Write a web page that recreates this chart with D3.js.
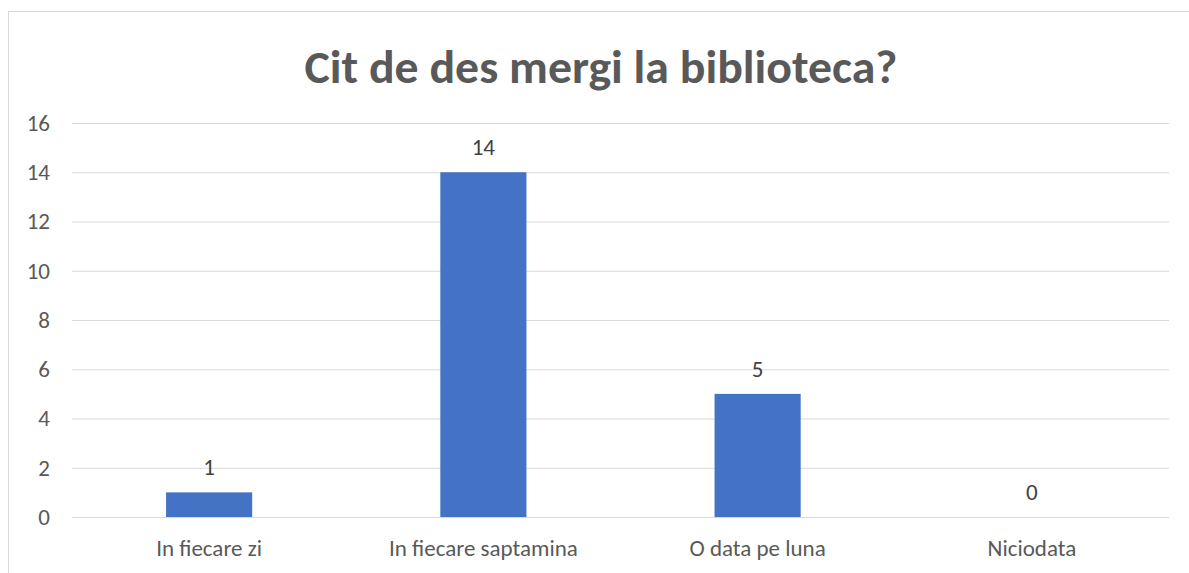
<!DOCTYPE html>
<html>
<head>
<meta charset="utf-8">
<script src="https://cdn.jsdelivr.net/npm/d3@7"></script>
<style>
  body { margin: 0; background: #fff; }
  text { font-family: Carlito, "Open Sans", "Liberation Sans", sans-serif; }
</style>
</head>
<body>
<div id="chart"></div>
<script>
// Data
const categories = ["In fiecare zi", "In fiecare saptamina", "O data pe luna", "Niciodata"];
const values = [1, 14, 5, 0];
const yTicks = [0, 2, 4, 6, 8, 10, 12, 14, 16];
const title = "Cit de des mergi la biblioteca?";

const W = 1189, H = 573;
const margin = { top: 123, right: 20, bottom: 56, left: 72 };
const plotW = 1169 - margin.left;
const plotH = 517 - margin.top;

const svg = d3.select("#chart")
    .append("svg")
    .attr("width", W)
    .attr("height", H);

// Chart border
svg.append("rect")
    .attr("x", 8.5)
    .attr("y", 11.5)
    .attr("width", W + 10)
    .attr("height", H + 10)
    .attr("fill", "none")
    .attr("stroke", "#d9d9d9")
    .attr("stroke-width", 1);

// Title
svg.append("text")
    .attr("x", 601)
    .attr("y", 83)
    .attr("text-anchor", "middle")
    .attr("textLength", 593)
    .attr("lengthAdjust", "spacingAndGlyphs")
    .style("font-size", "46px")
    .style("font-weight", "bold")
    .style("fill", "#595959")
    .text(title);

const g = svg.append("g")
    .attr("transform", `translate(${margin.left},${margin.top})`);

const x = d3.scaleBand()
    .domain(categories)
    .range([0, plotW])
    .paddingInner(0.686)
    .paddingOuter(0.343);

const y = d3.scaleLinear()
    .domain([0, 16])
    .range([plotH, 0]);

// Gridlines
g.append("g")
    .call(d3.axisLeft(y).tickValues(yTicks).tickSize(-plotW).tickFormat(""))
    .call(a => a.select(".domain").remove())
    .selectAll("line")
    .attr("stroke", "#d9d9d9")
    .attr("stroke-width", 1.2);

// Y axis labels
g.append("g")
    .call(d3.axisLeft(y).tickValues(yTicks).tickSize(0).tickPadding(22))
    .call(a => a.select(".domain").remove())
    .selectAll("text")
    .style("font-size", "23px")
    .style("font-family", "Carlito, 'Open Sans', sans-serif")
    .attr("fill", "#595959");

// X axis labels
g.append("g")
    .attr("transform", `translate(0,${plotH})`)
    .call(d3.axisBottom(x).tickSize(0).tickPadding(23))
    .call(a => a.select(".domain").remove())
    .selectAll("text")
    .style("font-size", "23px")
    .style("font-family", "Carlito, 'Open Sans', sans-serif")
    .attr("fill", "#595959");

// Value labels
g.selectAll(".lbl")
    .data(values)
    .enter()
    .append("text")
    .attr("class", "lbl")
    .attr("x", (d, i) => x(categories[i]) + x.bandwidth() / 2)
    .attr("y", d => y(d) - 17)
    .attr("text-anchor", "middle")
    .style("font-size", "23px")
    .style("fill", "#404040")
    .text(d => d);

// Bars
g.selectAll(".bar")
    .data(values)
    .enter()
    .append("rect")
    .attr("class", "bar")
    .attr("x", (d, i) => x(categories[i]))
    .attr("y", d => y(d))
    .attr("width", x.bandwidth())
    .attr("height", d => plotH - y(d))
    .attr("fill", "#4472C4");
</script>
</body>
</html>
